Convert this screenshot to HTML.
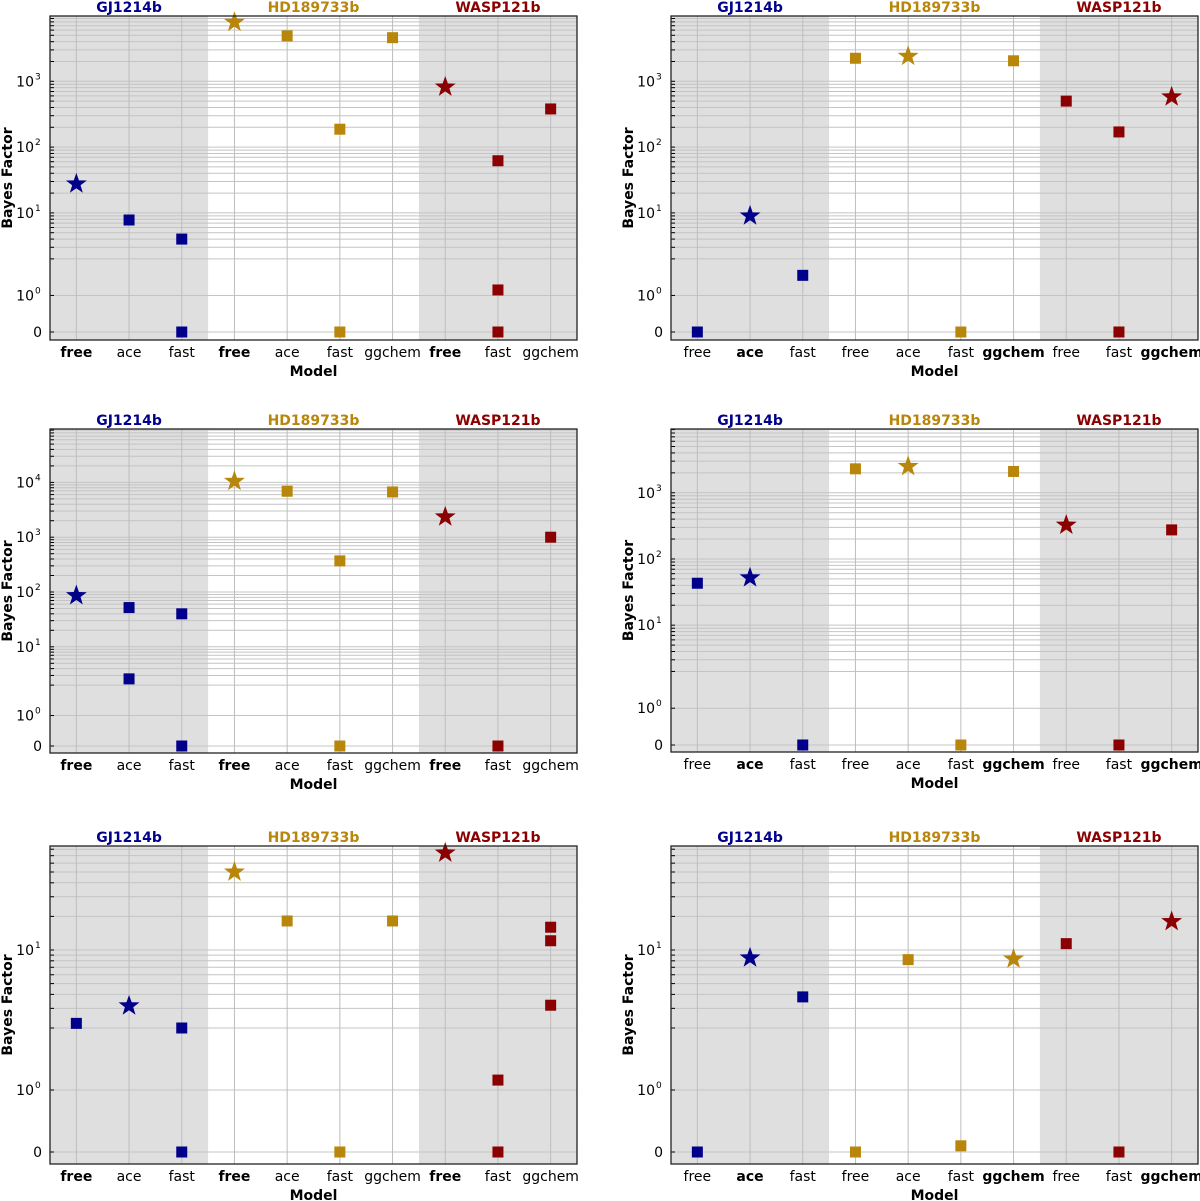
<!DOCTYPE html>
<html><head><meta charset="utf-8"><style>
html,body{margin:0;padding:0;background:#fff;}
svg{display:block;font-family:"DejaVu Sans","Liberation Sans",sans-serif;}
</style></head><body>
<svg id="chart" width="1200" height="1201" viewBox="0 0 1200 1201" xmlns="http://www.w3.org/2000/svg"></svg>
<script>
// ---- data ----
const categories = ["free","ace","fast","free","ace","fast","ggchem","free","fast","ggchem"];
const planets = ["GJ1214b","HD189733b","WASP121b"];
const planetColors = ["#00008b","#b8860b","#8b0000"];
// per-panel points: x index, value, marker (s=square, *=star)
const p1X = [0,1,2,2,3,4,5,5,6,7,8,8,8,9];
const p1Y = [27.6,7.8,4.0,0,7900,4900,187,0,4600,820,62,1.15,0,380];
const p1M = ["*","s","s","s","*","s","s","s","s","*","s","s","s","s"];
const p2X = [0,1,2,3,4,5,6,7,8,8,9];
const p2Y = [0,9.0,1.55,2240,2400,0,2050,500,170,0,580];
const p2M = ["s","*","s","s","*","s","s","s","s","s","*"];
const p3X = [0,1,1,2,2,3,4,5,5,6,7,8,9];
const p3Y = [86,52,2.6,40,0,10500,6900,370,0,6700,2350,0,1000];
const p3M = ["*","s","s","s","s","*","s","s","s","s","*","s","s"];
const p4X = [0,1,2,3,4,5,6,7,8,9];
const p4Y = [43,52,0,2300,2500,0,2100,325,0,275];
const p4M = ["s","*","s","s","*","s","s","*","s","s"];
const p5X = [0,1,2,2,3,4,5,6,7,8,8,9,9,9];
const p5Y = [2.2,3.16,2.0,0,50,18.2,0,18.2,74,1.16,0,16,12.1,3.2];
const p5M = ["s","*","s","s","*","s","s","s","*","s","s","s","s","s"];
const p6X = [0,1,2,3,4,5,6,7,8,9];
const p6Y = [0,8.5,3.8,0,8.2,0.1,8.3,11.4,0,18];
const p6M = ["s","*","s","s","s","s","*","s","s","*"];
const p1Bold = [0,3,7], p2Bold = [1,6,9];
const yTickExps1 = [0,1,2,3], yTickExps3 = [0,1,2,3,4], yTickExps5 = [0,1];

const panels = [
 {name:"panel-top-left",left:50,top:16,bottom:340,zero:332,scale:32.9,X:p1X,Y:p1Y,M:p1M,bold:p1Bold,exps:yTickExps1},
 {name:"panel-top-right",left:671,top:16,bottom:340,zero:332,scale:32.9,X:p2X,Y:p2Y,M:p2M,bold:p2Bold,exps:yTickExps1},
 {name:"panel-middle-left",left:50,top:429,bottom:753,zero:746,scale:27.4,X:p3X,Y:p3Y,M:p3M,bold:p1Bold,exps:yTickExps3},
 {name:"panel-middle-right",left:671,top:429,bottom:752,zero:745,scale:33.1,X:p4X,Y:p4Y,M:p4M,bold:p2Bold,exps:yTickExps1},
 {name:"panel-bottom-left",left:50,top:846,bottom:1164,zero:1152,scale:55.8,X:p5X,Y:p5Y,M:p5M,bold:p1Bold,exps:yTickExps5},
 {name:"panel-bottom-right",left:671,top:846,bottom:1164,zero:1152,scale:55.8,X:p6X,Y:p6Y,M:p6M,bold:p2Bold,exps:yTickExps5}
];
const W = 527;
const NS = "http://www.w3.org/2000/svg";
const svg = document.getElementById("chart");
function mk(tag, attrs, parent){const e=document.createElementNS(NS,tag);for(const k in attrs)e.setAttribute(k,attrs[k]);(parent||svg).appendChild(e);return e;}
const LA = 1/(1-0.1); // linscale adj
function symT(v){return v<=2 ? v*LA : 2*(LA+Math.log10(v/2));}
function planetOf(i){return i<3?0:(i<7?1:2);}
function starPath(cx,cy,R){const r=R*0.4;let d="";for(let i=0;i<10;i++){const a=-Math.PI/2+i*Math.PI/5;const rr=i%2?r:R;d+=(i?"L":"M")+(cx+rr*Math.cos(a)).toFixed(2)+","+(cy+rr*Math.sin(a)).toFixed(2);}return d+"Z";}

panels.forEach(p=>{
  const g = mk("g",{});
  
  
  const sx = i => p.left + (i+0.5)*W/10;
  const sy = v => p.zero - symT(v)*p.scale;
  const H = p.bottom - p.top;
  // background shading
  mk("rect",{x:p.left,y:p.top,width:W,height:H,fill:"#fff"},g);
  const s1 = mk("rect",{x:p.left,y:p.top,width:W*0.3,height:H,fill:"#dfdfdf"},g);
  
  
  const s2 = mk("rect",{x:p.left+W*0.7,y:p.top,width:W*0.3,height:H,fill:"#dfdfdf"},g);
  
  
  // horizontal grid
  const vals=[0];
  for(let n=0;n<6;n++)for(let k=1;k<10;k++)vals.push(k*Math.pow(10,n));
  vals.forEach(v=>{const y=sy(v);if(y>p.top+0.5&&y<p.bottom-0.5){
    const l=mk("line",{x1:p.left,x2:p.left+W,y1:y,y2:y,stroke:"#c4c4c4","stroke-width":1},g);
    
    
    mk("line",{x1:p.left,x2:p.left+4,y1:y,y2:y,stroke:"#000","stroke-width":1},g);
  }});
  // vertical grid + x labels
  categories.forEach((c,i)=>{
    const x=sx(i);
    const l=mk("line",{x1:x,x2:x,y1:p.top,y2:p.bottom,stroke:"#bdbdbd","stroke-width":1},g);
    
    
    const t=mk("text",{x:x,y:p.bottom+17,"text-anchor":"middle","font-size":14,"font-weight":p.bold.includes(i)?"bold":"normal",fill:"#000"},g);
    t.textContent=c;
    
    
  });
  // y tick labels
  const z=mk("text",{x:p.left-8,y:sy(0)+5,"text-anchor":"end","font-size":14},g);
  z.textContent="0";
  
  
  p.exps.forEach(n=>{
    const t=mk("text",{x:p.left-16,y:sy(Math.pow(10,n))+5,"text-anchor":"end","font-size":14},g);
    t.textContent="10";
    
    
    const s=mk("text",{x:p.left-15,y:sy(Math.pow(10,n))-2,"font-size":9},g);
    s.textContent=String(n);
  });
  // markers
  p.X.forEach((xi,j)=>{
    const col=planetColors[planetOf(xi)];
    const x=sx(xi), y=sy(p.Y[j]);
    let m;
    if(p.M[j]==="*"){m=mk("path",{d:starPath(x,y,11),fill:col},g);}
    else{m=mk("rect",{x:x-5.5,y:y-5.5,width:11,height:11,fill:col},g);}
    
  });
  // frame
  const f=mk("rect",{x:p.left,y:p.top,width:W,height:H,fill:"none",stroke:"#222","stroke-width":1.3},g);
  
  
  // planet titles
  const tx=[sx(1),sx(4.5),sx(8)];
  planets.forEach((pl,k)=>{
    const t=mk("text",{x:tx[k],y:p.top-4,"text-anchor":"middle","font-size":14,"font-weight":"bold",fill:planetColors[k]},g);
    t.textContent=pl;
    
    
  });
  // axis titles
  const xt=mk("text",{x:p.left+W/2,y:p.bottom+36,"text-anchor":"middle","font-size":14,"font-weight":"bold"},g);
  xt.textContent="Model";
  
  
  const cy=(p.top+p.bottom)/2, cx=p.left-38;
  const yt=mk("text",{x:cx,y:cy,"text-anchor":"middle","font-size":14,"font-weight":"bold",transform:`rotate(-90 ${cx} ${cy})`},g);
  yt.textContent="Bayes Factor";
  
  
});
</script>
</body></html>
